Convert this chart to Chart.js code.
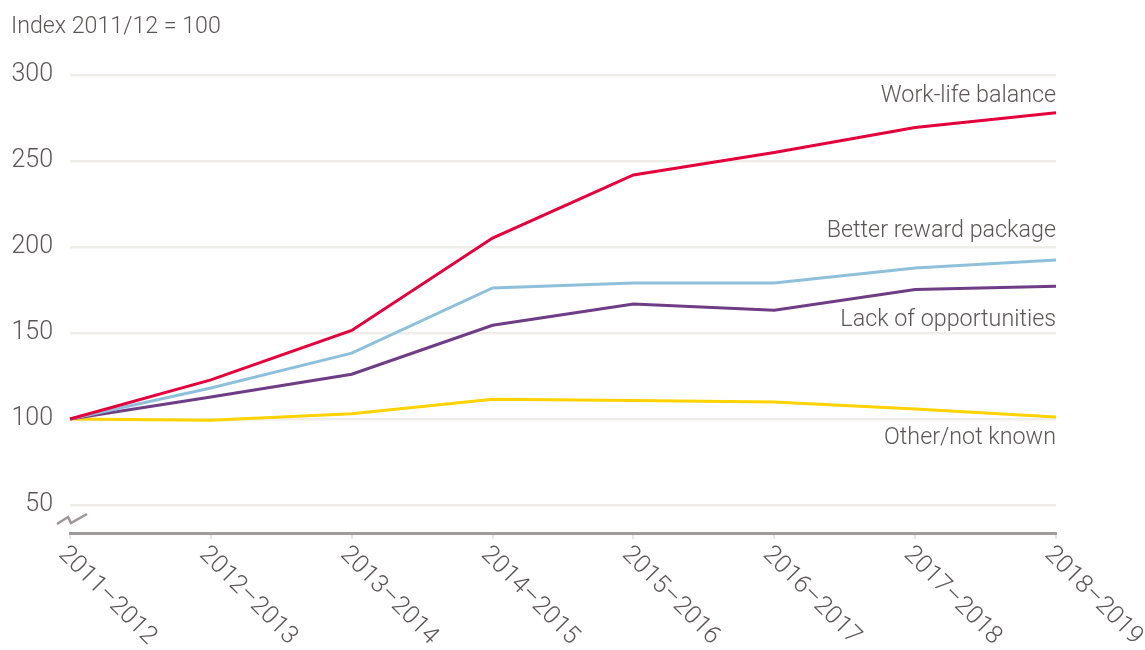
<!DOCTYPE html>
<html>
<head>
<meta charset="utf-8">
<script src="https://cdn.jsdelivr.net/npm/chart.js@4"></script>
<style>
  html, body { margin: 0; padding: 0; background: #fff; }
  #wrap { width: 1145px; height: 650px; }
</style>
</head>
<body>
<div id="wrap"><canvas id="chart" width="1145" height="650"></canvas></div>
<script>
const years = ["2011–2012", "2012–2013", "2013–2014", "2014–2015", "2015–2016", "2016–2017", "2017–2018", "2018–2019"];
const workLife = [100, 122.7, 151.5, 205.2, 241.9, 255.0, 269.5, 278.0];
const reward = [100, 118.0, 138.3, 176.2, 179.0, 179.0, 187.8, 192.4];
const opportunities = [100, 112.8, 126.0, 154.5, 166.9, 163.2, 175.3, 177.2];
const other = [100, 99.3, 103.0, 111.5, 110.7, 109.8, 105.8, 101.2];
const yTicks = [50, 100, 150, 200, 250, 300];

const textColor = "#5b5655";
const fontFamily = "Roboto, 'Open Sans', sans-serif";

// labels drawn beside the end of each line, in place of a legend
const seriesLabels = [
    { text: "Work-life balance", series: 0, dy: -17 },
    { text: "Better reward package", series: 1, dy: -29 },
    { text: "Lack of opportunities", series: 2, dy: 34 },
    { text: "Other/not known", series: 3, dy: 21 },
];

const decorPlugin = {
    id: "decor",
    afterDraw(chart) {
        const ctx = chart.ctx;
        const xs = chart.scales.x;
        const ys = chart.scales.y;
        const area = chart.chartArea;
        ctx.save();

        // axis title
        ctx.fillStyle = textColor;
        ctx.font = "300 23.2px " + fontFamily;
        ctx.textAlign = "left";
        ctx.textBaseline = "middle";
        ctx.fillText("Index 2011/12 = 100", 11, 27);

        // rotated category labels
        ctx.font = "300 25px " + fontFamily;
        years.forEach((label, i) => {
            ctx.save();
            ctx.translate(xs.getPixelForValue(i) + 1, area.bottom + 9);
            ctx.rotate(Math.PI / 4);
            ctx.textAlign = "left";
            ctx.textBaseline = "top";
            ctx.fillText(label, 0, 0);
            ctx.restore();
        });

        // series labels
        ctx.font = "300 23.3px " + fontFamily;
        ctx.textAlign = "right";
        ctx.textBaseline = "middle";
        seriesLabels.forEach((l) => {
            const data = chart.data.datasets[l.series].data;
            const y = ys.getPixelForValue(data[data.length - 1]) + l.dy;
            ctx.fillText(l.text, area.right, y);
        });

        // axis break mark
        const bx = area.left - 13;
        const by = area.bottom - 9;
        ctx.strokeStyle = "#9b9595";
        ctx.lineWidth = 2.5;
        ctx.beginPath();
        ctx.moveTo(bx, by);
        ctx.lineTo(bx + 11, by - 7);
        ctx.lineTo(bx + 14, by - 1);
        ctx.lineTo(bx + 30, by - 10);
        ctx.stroke();

        ctx.restore();
    },
};

const line = (data, color) => ({
    data: data,
    borderColor: color,
    backgroundColor: color,
    borderWidth: 3,
    pointRadius: 0,
    tension: 0,
    fill: false,
});

new Chart(document.getElementById("chart"), {
    type: "line",
    data: {
        labels: years,
        datasets: [
            line(workLife, "#e4003c"),
            line(reward, "#8ec0dc"),
            line(opportunities, "#6f3d86"),
            line(other, "#ffd200"),
        ],
    },
    options: {
        responsive: false,
        animation: false,
        layout: { padding: { top: 75, right: 89, left: 0, bottom: 0 } },
        plugins: {
            legend: { display: false },
            tooltip: { enabled: false },
        },
        scales: {
            x: {
                offset: false,
                afterFit: (s) => { s.height = 117; },
                ticks: { display: false },
                grid: {
                    drawOnChartArea: false,
                    drawTicks: true,
                    tickLength: 6,
                    color: "#e8e5e1",
                    lineWidth: 2,
                },
                border: { color: "#a19b9b", width: 3 },
            },
            y: {
                min: 33.7,
                max: 300,
                afterBuildTicks: (s) => { s.ticks = yTicks.map((v) => ({ value: v })); },
                afterFit: (s) => { s.width = 70; },
                ticks: {
                    color: textColor,
                    font: { family: fontFamily, size: 25, weight: 300 },
                    padding: 17,
                },
                grid: { color: "#efede9", lineWidth: 2.5, drawTicks: false },
                border: { display: false },
            },
        },
    },
    plugins: [decorPlugin],
});
</script>
</body>
</html>
